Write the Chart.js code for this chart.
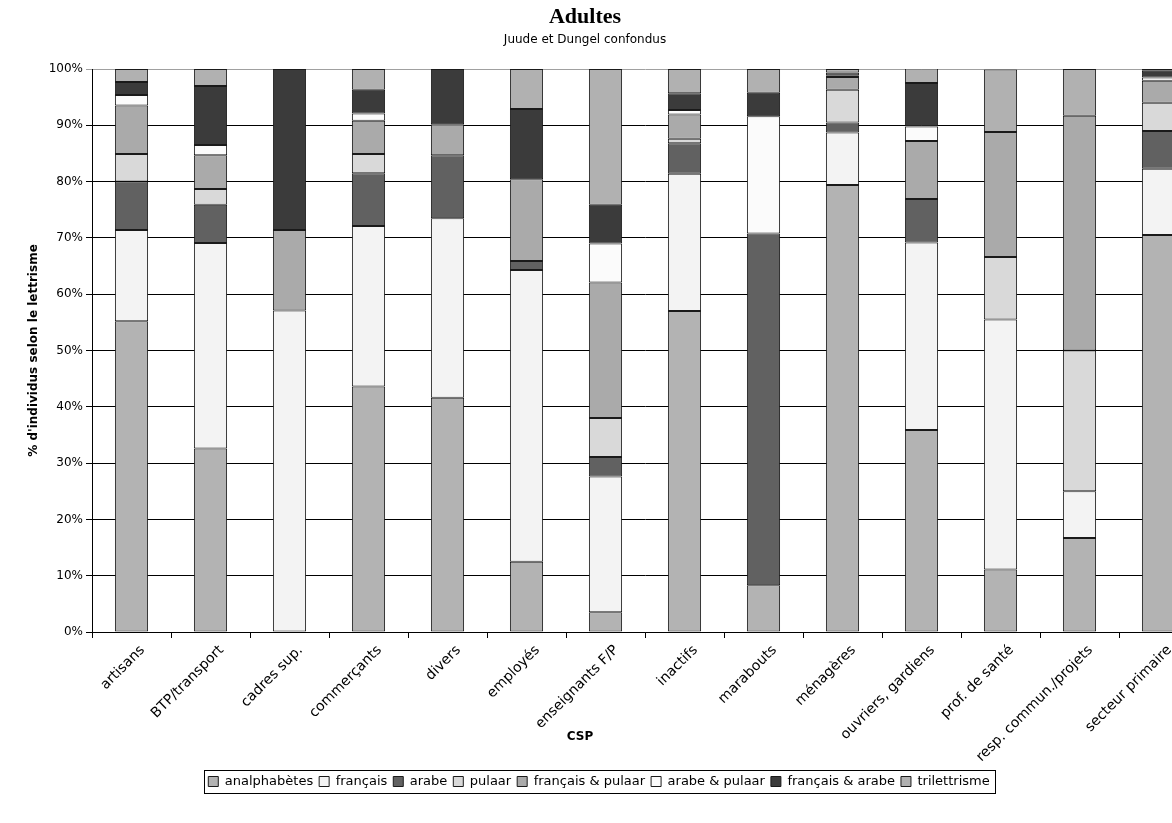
<!DOCTYPE html>
<html>
<head>
<meta charset="utf-8">
<script src="https://cdn.jsdelivr.net/npm/chart.js@4.4.1/dist/chart.umd.min.js"></script>
<style>
  html, body { margin: 0; padding: 0; background: #fff; overflow: hidden; }
  #wrap { position: relative; width: 1204px; height: 823px; }
</style>
</head>
<body>
<div id="wrap"><canvas id="lettrismeChart" width="1204" height="823"></canvas></div>
<script>
const categories = ["artisans", "BTP/transport", "cadres sup.", "commerçants", "divers", "employés",
  "enseignants F/P", "inactifs", "marabouts", "ménagères", "ouvriers, gardiens", "prof. de santé",
  "resp. commun./projets", "secteur primaire"];

// % of individuals, stacked bottom to top
const analphabetes   = [55.2, 32.6, 0,    43.6, 41.6, 12.5, 3.5,  57.0, 8.3,  79.4, 35.9, 11.1, 16.7, 70.5];
const francais       = [16.2, 36.5, 57.1, 28.5, 31.9, 51.8, 24.1, 24.4, 0,    9.3,  33.3, 44.4, 8.3,  11.8];
const arabe          = [8.6,  6.8,  0,    9.4,  11.2, 1.6,  3.5,  5.4,  62.5, 1.8,  7.7,  0,    0,    6.7];
const pulaar         = [4.9,  2.8,  0,    3.4,  0,    0,    6.9,  0.8,  0,    5.8,  0,    11.1, 25.0, 5.0];
const francaisPulaar = [8.6,  6.0,  14.3, 5.9,  5.5,  14.5, 24.1, 4.3,  0,    2.3,  10.3, 22.2, 41.7, 3.9];
const arabePulaar    = [1.9,  1.8,  0,    1.3,  0,    0,    6.9,  0.8,  20.8, 0.2,  2.6,  0,    0,    0.6];
const francaisArabe  = [2.3,  10.5, 28.6, 4.2,  9.8,  12.5, 6.9,  3.0,  4.2,  0.6,  7.7,  0,    0,    1.2];
const trilettrisme   = [2.3,  3.0,  0,    3.7,  0,    7.1,  24.1, 4.3,  4.2,  0.6,  2.6,  11.1, 8.3,  0.3];

const seriesNames = ["analphabètes", "français", "arabe", "pulaar", "français & pulaar",
  "arabe & pulaar", "français & arabe", "trilettrisme"];
const seriesData = [analphabetes, francais, arabe, pulaar, francaisPulaar, arabePulaar, francaisArabe, trilettrisme];
const seriesColors = ["#b3b3b3", "#f3f3f3", "#616161", "#d9d9d9", "#aaaaaa", "#fbfbfb", "#3b3b3b", "#b1b1b1"];

const SANS = '"DejaVu Sans", sans-serif';

// title, subtitle, x axis name and the legend frame
const extraText = {
  id: "extraText",
  afterDraw(chart) {
    const ctx = chart.ctx;
    ctx.save();
    ctx.fillStyle = "#000";
    ctx.textAlign = "center";
    ctx.textBaseline = "middle";
    ctx.font = 'bold 22px "Liberation Serif", serif';
    ctx.fillText("Adultes", 585, 17);
    ctx.font = "12px " + SANS;
    ctx.fillText("Juude et Dungel confondus", 585, 40);
    ctx.font = "bold 12px " + SANS;
    ctx.fillText("CSP", 580, 737);

    const boxes = chart.legend.legendHitBoxes;
    if (boxes && boxes.length) {
      let l = Infinity, r = -Infinity, t = Infinity, b = -Infinity;
      boxes.forEach(h => {
        l = Math.min(l, h.left); r = Math.max(r, h.left + h.width);
        t = Math.min(t, h.top); b = Math.max(b, h.top + h.height);
      });
      ctx.strokeStyle = "#000";
      ctx.lineWidth = 1;
      ctx.strokeRect(Math.round(l - 4) + 0.5, Math.round(t - 5) + 0.5, Math.round(r - l + 10), Math.round(b - t + 10));
    }
    ctx.restore();
  }
};

new Chart(document.getElementById("lettrismeChart"), {
  type: "bar",
  data: {
    labels: categories,
    datasets: seriesNames.map((name, i) => ({
      label: name,
      data: seriesData[i],
      backgroundColor: seriesColors[i],
      borderColor: "#1a1a1a",
      borderWidth: 1,
      borderSkipped: false,
      barPercentage: 0.42,
      categoryPercentage: 1
    }))
  },
  options: {
    responsive: false,
    animation: false,
    layout: { padding: { top: 69, bottom: 25, left: 0, right: 6 } },
    plugins: {
      title: { display: false },
      tooltip: { enabled: false },
      legend: {
        position: "bottom",
        labels: {
          color: "#000",
          font: { family: SANS, size: 13 },
          boxWidth: 10,
          boxHeight: 10,
          padding: 6
        }
      }
    },
    scales: {
      x: {
        stacked: true,
        afterFit(scale) { scale.height = 137; },
        border: { color: "#000", width: 1 },
        grid: { offset: true, drawOnChartArea: false, drawTicks: true, tickLength: 6, color: "#000" },
        ticks: {
          color: "#000",
          font: { family: SANS, size: 14 },
          minRotation: 45,
          maxRotation: 45,
          autoSkip: false,
          labelOffset: 11,
          padding: 4
        }
      },
      y: {
        stacked: true,
        min: 0,
        max: 100,
        afterFit(scale) { scale.width = 92; },
        border: { color: "#000", width: 1 },
        grid: {
          color: ctx => (ctx.tick && ctx.tick.value === 100 ? "#a0a0a0" : "#000"),
          lineWidth: 1,
          tickLength: 6
        },
        ticks: {
          stepSize: 10,
          color: "#000",
          font: { family: SANS, size: 12 },
          padding: 3,
          callback: v => v + "%"
        },
        title: {
          display: true,
          text: "% d'individus selon le lettrisme",
          color: "#000",
          font: { family: SANS, size: 12, weight: "bold" },
          padding: { top: 27, bottom: 0 }
        }
      }
    }
  },
  plugins: [extraText]
});
</script>
